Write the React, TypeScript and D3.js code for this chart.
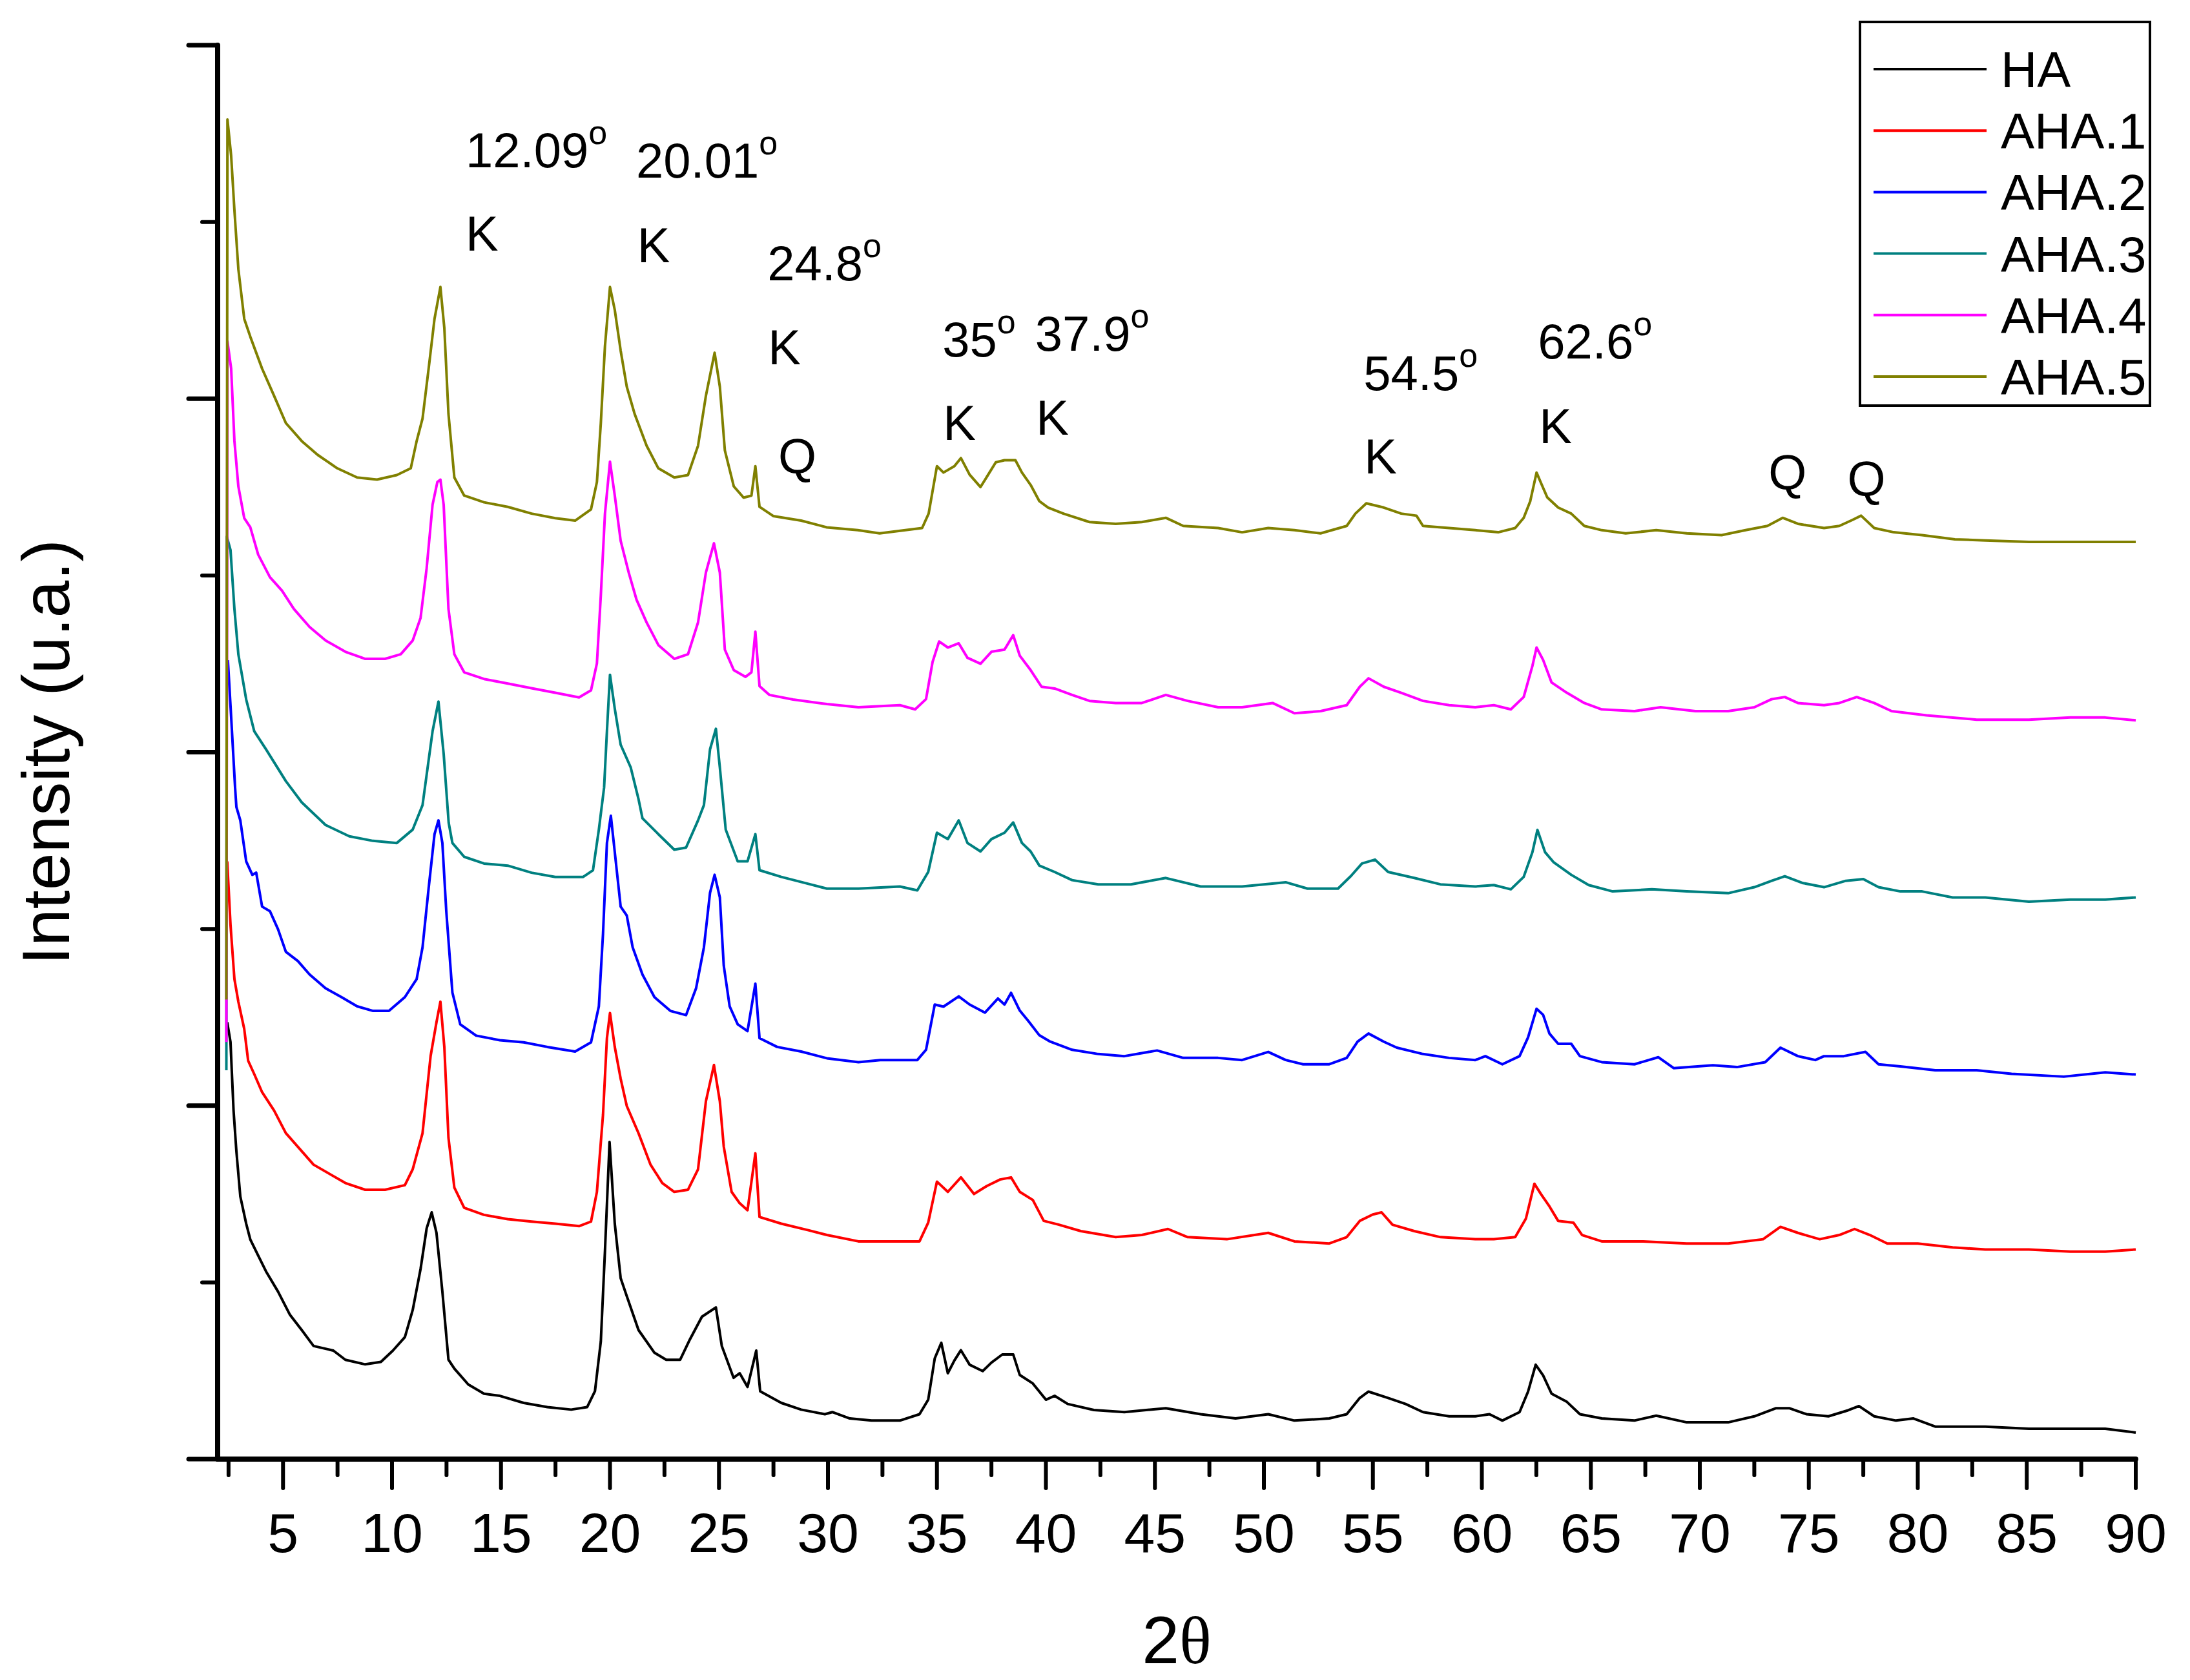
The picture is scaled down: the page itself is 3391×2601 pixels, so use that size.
import React from "react";
import * as d3 from "d3";

const W = 3391;
const H = 2601;

// ---- data: 2θ (deg) , intensity (u.a., stacked as plotted) ----
const seriesNames = ["HA", "AHA.1", "AHA.2", "AHA.3", "AHA.4", "AHA.5"];
const seriesColors = ["#000000", "#FF0000", "#0000FF", "#008080", "#FF00FF", "#808000"];

const HA: [number, number][] = [
  [2.44,1.236],[2.59,1.18],[2.73,0.986],[2.86,0.871],[3.04,0.743],[3.31,0.666],[3.50,0.621],[3.86,0.576],[4.22,0.531],[4.77,0.474],[5.31,0.409],[5.86,0.365],[6.40,0.320],[7.31,0.307],[7.86,0.281],[8.77,0.268],[9.49,0.275],[10.04,0.307],[10.59,0.345],[10.95,0.422],[11.31,0.538],[11.59,0.653],[11.82,0.698],[12.04,0.640],[12.31,0.474],[12.59,0.281],[12.86,0.256],[13.5,0.211],[14.22,0.185],[14.95,0.179],[16.04,0.159],[17.13,0.147],[18.22,0.140],[18.95,0.147],[19.31,0.192],[19.58,0.333],[19.77,0.589],[19.98,0.897],[20.22,0.666],[20.49,0.512],[20.77,0.461],[21.31,0.365],[22.04,0.301],[22.58,0.281],[23.22,0.281],[23.67,0.339],[24.22,0.403],[24.86,0.429],[25.13,0.320],[25.67,0.230],[25.95,0.243],[26.31,0.204],[26.71,0.307],[26.89,0.192],[27.86,0.159],[28.77,0.140],[29.86,0.127],
  [30.2,0.133],[31.0,0.115],[32.0,0.109],[33.3,0.109],[34.2,0.127],[34.6,0.168],[34.9,0.285],[35.2,0.329],[35.5,0.243],[35.8,0.279],[36.1,0.308],[36.5,0.267],[37.1,0.249],[37.5,0.273],[38.0,0.296],[38.5,0.296],[38.8,0.238],[39.4,0.214],[40.0,0.168],[40.4,0.179],[41.0,0.156],[42.2,0.139],[43.6,0.133],[45.5,0.144],[47.1,0.127],[48.7,0.115],[50.2,0.127],[51.4,0.109],[53.0,0.115],[53.8,0.127],[54.4,0.173],[54.8,0.191],[55.7,0.173],[56.5,0.156],[57.3,0.133],[58.5,0.121],[59.7,0.121],
  [60.35,0.127],[60.94,0.109],[61.73,0.133],[62.12,0.191],[62.47,0.267],[62.81,0.237],[63.2,0.185],[63.9,0.162],[64.5,0.127],[65.5,0.115],[67.0,0.109],[68.0,0.123],[69.4,0.104],[71.3,0.104],[72.5,0.121],[73.5,0.144],[74.1,0.144],[74.9,0.127],[75.9,0.121],[76.8,0.138],[77.3,0.150],[78.0,0.121],[79.0,0.109],[79.8,0.115],[80.8,0.092],[83.1,0.092],[85.1,0.086],[87.0,0.086],[88.6,0.086],[90.0,0.075]
];

const AHA1: [number, number][] = [
  [2.44,1.691],[2.59,1.512],[2.77,1.358],[2.95,1.294],[3.22,1.217],[3.40,1.127],[3.68,1.089],[4.04,1.038],[4.59,0.986],[5.13,0.922],[5.86,0.871],[6.40,0.833],[7.13,0.807],[7.86,0.781],[8.77,0.762],[9.68,0.762],[10.59,0.775],[10.95,0.820],[11.40,0.922],[11.77,1.140],[12.04,1.236],[12.22,1.294],[12.40,1.166],[12.59,0.909],[12.86,0.768],[13.31,0.711],[14.22,0.691],[15.31,0.679],[16.40,0.672],[17.49,0.666],[18.58,0.659],[19.13,0.672],[19.40,0.756],[19.68,0.974],[19.86,1.191],[20.0,1.262],[20.22,1.166],[20.49,1.076],[20.77,0.999],[21.31,0.922],[21.86,0.833],[22.40,0.781],[22.95,0.756],[23.58,0.762],[24.04,0.820],[24.40,1.012],[24.77,1.115],[25.04,1.012],[25.22,0.884],[25.58,0.756],[25.95,0.724],[26.31,0.704],[26.67,0.865],[26.86,0.685],[27.86,0.666],[29.13,0.647],[29.95,0.634],
  [31.4,0.616],[33.3,0.616],[34.2,0.616],[34.6,0.669],[35.0,0.785],[35.5,0.756],[36.1,0.797],[36.7,0.750],[37.3,0.773],[37.9,0.791],[38.4,0.797],[38.8,0.756],[39.4,0.733],[39.9,0.674],[40.6,0.663],[41.6,0.645],[43.2,0.628],[44.4,0.634],[45.6,0.651],[46.5,0.628],[48.3,0.622],[50.2,0.640],[51.4,0.616],[53.0,0.610],[53.8,0.628],[54.4,0.674],[55.0,0.692],[55.4,0.698],[55.9,0.663],[56.9,0.645],[58.1,0.628],[59.7,0.622],
  [60.55,0.622],[61.53,0.628],[62.02,0.680],[62.41,0.779],[62.71,0.750],[63.1,0.715],[63.5,0.674],[64.2,0.669],[64.6,0.634],[65.5,0.616],[67.4,0.616],[69.4,0.610],[71.3,0.610],[72.9,0.622],[73.7,0.657],[74.5,0.640],[75.5,0.622],[76.4,0.634],[77.1,0.651],[77.8,0.634],[78.6,0.610],[80.0,0.610],[81.6,0.599],[83.1,0.593],[85.1,0.593],[87.0,0.587],[88.6,0.587],[90.0,0.593]
];

const AHA2: [number, number][] = [
  [2.47,2.26],[2.62,2.10],[2.80,1.90],[2.86,1.845],[3.04,1.807],[3.31,1.691],[3.59,1.653],[3.77,1.659],[4.04,1.563],[4.40,1.550],[4.77,1.499],[5.13,1.435],[5.68,1.409],[6.22,1.371],[6.95,1.332],[7.68,1.307],[8.40,1.281],[9.13,1.268],[9.86,1.268],[10.59,1.307],[11.13,1.358],[11.40,1.448],[11.68,1.615],[11.95,1.768],[12.13,1.807],[12.31,1.743],[12.49,1.550],[12.77,1.320],[13.13,1.230],[13.86,1.198],[14.95,1.185],[16.04,1.179],[17.13,1.166],[18.40,1.153],[19.13,1.179],[19.49,1.281],[19.68,1.486],[19.86,1.743],[20.04,1.820],[20.22,1.717],[20.49,1.563],[20.77,1.538],[21.04,1.448],[21.49,1.371],[22.04,1.307],[22.77,1.268],[23.49,1.256],[23.95,1.332],[24.31,1.448],[24.59,1.602],[24.80,1.653],[25.04,1.589],[25.22,1.396],[25.49,1.281],[25.86,1.230],[26.31,1.211],[26.67,1.345],[26.86,1.191],[27.67,1.166],[28.77,1.153],[29.95,1.134],
  [31.4,1.123],[32.4,1.129],[34.1,1.129],[34.5,1.158],[34.9,1.286],[35.3,1.280],[36.0,1.309],[36.5,1.286],[37.2,1.263],[37.8,1.303],[38.1,1.286],[38.4,1.319],[38.8,1.269],[39.2,1.239],[39.7,1.199],[40.2,1.181],[41.2,1.158],[42.4,1.146],[43.6,1.140],[45.1,1.156],[46.3,1.135],[47.9,1.135],[49.0,1.129],[50.2,1.152],[51.0,1.129],[51.8,1.117],[53.0,1.117],[53.8,1.135],[54.3,1.181],[54.8,1.204],[55.5,1.181],[56.1,1.164],[57.3,1.146],[58.5,1.135],[59.7,1.129],
  [60.16,1.140],[60.94,1.117],[61.73,1.140],[62.12,1.193],[62.51,1.274],[62.81,1.257],[63.1,1.204],[63.5,1.175],[64.1,1.175],[64.5,1.140],[65.5,1.123],[67.0,1.117],[68.1,1.137],[68.8,1.106],[70.6,1.114],[71.7,1.109],[73.0,1.123],[73.7,1.164],[74.5,1.140],[75.3,1.129],[75.7,1.140],[76.6,1.140],[77.6,1.152],[78.2,1.117],[79.2,1.111],[80.8,1.100],[82.7,1.100],[84.3,1.090],[86.7,1.082],[88.6,1.094],[90.0,1.088]
];

const AHA3: [number, number][] = [
  [2.40,1.10],[2.42,2.61],[2.59,2.572],[2.77,2.405],[2.95,2.277],[3.31,2.149],[3.68,2.059],[4.22,2.008],[5.13,1.918],[5.86,1.858],[6.95,1.794],[8.04,1.762],[9.13,1.749],[10.22,1.743],[10.95,1.781],[11.40,1.850],[11.86,2.059],[12.13,2.143],[12.37,1.995],[12.60,1.800],[12.77,1.743],[13.31,1.704],[14.22,1.685],[15.31,1.679],[16.40,1.659],[17.49,1.647],[18.77,1.647],[19.22,1.666],[19.49,1.781],[19.73,1.900],[19.86,2.059],[20.0,2.219],[20.22,2.123],[20.49,2.021],[20.95,1.957],[21.31,1.867],[21.49,1.813],[22.22,1.768],[22.95,1.724],[23.49,1.730],[24.04,1.807],[24.31,1.850],[24.59,2.008],[24.86,2.066],[25.04,1.957],[25.31,1.781],[25.86,1.691],[26.31,1.691],[26.67,1.768],[26.86,1.666],[27.86,1.647],[29.13,1.627],[29.95,1.614],
  [31.4,1.614],[33.3,1.620],[34.1,1.609],[34.6,1.661],[35.0,1.772],[35.5,1.754],[36.0,1.807],[36.4,1.743],[37.0,1.719],[37.5,1.754],[38.1,1.772],[38.5,1.801],[38.9,1.743],[39.3,1.719],[39.7,1.679],[40.4,1.661],[41.2,1.638],[42.4,1.626],[43.9,1.626],[45.5,1.644],[47.1,1.620],[49.0,1.620],[51.0,1.632],[52.0,1.614],[53.4,1.614],[54.0,1.650],[54.5,1.685],[55.1,1.696],[55.7,1.661],[56.9,1.644],[58.1,1.626],[59.7,1.620],
  [60.55,1.624],[61.33,1.612],[61.92,1.647],[62.32,1.717],[62.55,1.780],[62.9,1.717],[63.3,1.688],[64.1,1.653],[64.9,1.624],[66.0,1.606],[67.8,1.612],[69.4,1.606],[71.3,1.601],[72.5,1.618],[73.3,1.636],[73.9,1.649],[74.7,1.630],[75.7,1.618],[76.7,1.636],[77.5,1.641],[78.2,1.618],[79.2,1.606],[80.2,1.606],[81.6,1.589],[83.1,1.589],[85.1,1.577],[87.0,1.583],[88.6,1.583],[90.0,1.589]
];

const AHA4: [number, number][] = [
  [2.40,1.18],[2.45,3.162],[2.62,3.085],[2.77,2.880],[2.95,2.752],[3.22,2.662],[3.50,2.636],[3.86,2.559],[4.40,2.495],[4.95,2.457],[5.50,2.405],[6.22,2.354],[6.95,2.316],[7.86,2.284],[8.77,2.264],[9.68,2.264],[10.40,2.277],[10.95,2.316],[11.31,2.380],[11.59,2.521],[11.86,2.700],[12.08,2.764],[12.22,2.771],[12.37,2.700],[12.59,2.405],[12.86,2.277],[13.31,2.226],[14.22,2.207],[15.31,2.194],[16.40,2.181],[17.49,2.168],[18.58,2.155],[19.13,2.175],[19.40,2.251],[19.58,2.444],[19.77,2.675],[20.0,2.822],[20.22,2.726],[20.49,2.598],[20.86,2.508],[21.22,2.431],[21.68,2.367],[22.22,2.303],[22.95,2.264],[23.58,2.277],[24.04,2.367],[24.40,2.508],[24.77,2.591],[25.04,2.508],[25.27,2.290],[25.68,2.232],[26.22,2.213],[26.49,2.226],[26.67,2.341],[26.86,2.187],[27.31,2.162],[28.40,2.149],[29.95,2.136],
  [31.4,2.127],[33.3,2.133],[34.0,2.121],[34.5,2.150],[34.8,2.255],[35.1,2.313],[35.5,2.296],[36.0,2.308],[36.4,2.267],[37.0,2.250],[37.5,2.284],[38.1,2.290],[38.5,2.331],[38.8,2.273],[39.3,2.232],[39.8,2.185],[40.4,2.180],[41.2,2.162],[42.0,2.145],[43.2,2.139],[44.4,2.139],[45.5,2.162],[46.5,2.145],[47.9,2.127],[49.0,2.127],[50.4,2.139],[51.4,2.110],[52.6,2.116],[53.8,2.133],[54.4,2.185],[54.8,2.209],[55.5,2.185],[56.3,2.168],[57.3,2.145],[58.5,2.133],[59.7,2.127],
  [60.55,2.133],[61.33,2.121],[61.92,2.156],[62.32,2.244],[62.51,2.296],[62.81,2.261],[63.2,2.197],[63.9,2.168],[64.7,2.139],[65.5,2.121],[67.0,2.116],[68.2,2.127],[69.8,2.116],[71.3,2.116],[72.5,2.127],[73.3,2.150],[73.9,2.156],[74.5,2.139],[75.7,2.133],[76.4,2.139],[77.2,2.156],[78.0,2.139],[78.8,2.116],[80.4,2.104],[82.7,2.092],[85.1,2.092],[87.0,2.098],[88.6,2.098],[90.0,2.090]
];

const AHA5: [number, number][] = [
  [2.40,1.30],[2.45,3.790],[2.62,3.687],[2.77,3.533],[2.95,3.367],[3.22,3.226],[3.50,3.175],[4.04,3.085],[4.59,3.008],[5.13,2.931],[5.86,2.880],[6.59,2.841],[7.49,2.803],[8.40,2.777],[9.31,2.771],[10.22,2.784],[10.86,2.803],[11.13,2.880],[11.40,2.944],[11.68,3.085],[11.95,3.226],[12.22,3.316],[12.40,3.200],[12.59,2.957],[12.86,2.777],[13.31,2.726],[14.22,2.707],[15.31,2.694],[16.40,2.675],[17.49,2.662],[18.40,2.655],[19.13,2.687],[19.40,2.764],[19.58,2.931],[19.77,3.149],[20.0,3.316],[20.22,3.251],[20.49,3.136],[20.77,3.034],[21.13,2.957],[21.68,2.867],[22.22,2.803],[22.95,2.777],[23.58,2.784],[24.04,2.867],[24.40,3.008],[24.80,3.130],[25.04,3.034],[25.27,2.854],[25.68,2.752],[26.13,2.720],[26.49,2.726],[26.67,2.809],[26.86,2.694],[27.49,2.668],[28.77,2.655],[29.95,2.636],
  [31.37,2.628],[32.37,2.619],[34.32,2.634],[34.62,2.675],[35.0,2.809],[35.3,2.791],[35.8,2.809],[36.1,2.832],[36.5,2.785],[37.0,2.750],[37.3,2.780],[37.7,2.820],[38.1,2.826],[38.6,2.826],[38.9,2.791],[39.3,2.756],[39.7,2.710],[40.1,2.692],[40.8,2.675],[42.0,2.651],[43.2,2.646],[44.4,2.651],[45.5,2.663],[46.3,2.640],[47.9,2.634],[49.0,2.622],[50.2,2.634],[51.4,2.628],[52.6,2.619],[53.8,2.640],[54.2,2.675],[54.7,2.704],[55.5,2.692],[56.3,2.675],[57.0,2.669],[57.3,2.640],[58.5,2.634],[59.7,2.628],
  [60.75,2.622],[61.53,2.634],[61.92,2.663],[62.22,2.710],[62.51,2.791],[62.71,2.762],[63.0,2.721],[63.5,2.692],[64.1,2.675],[64.7,2.640],[65.5,2.628],[66.6,2.619],[68.0,2.628],[69.4,2.619],[71.0,2.614],[72.1,2.628],[73.1,2.640],[73.8,2.663],[74.5,2.646],[75.7,2.634],[76.4,2.640],[77.0,2.657],[77.4,2.669],[78.0,2.634],[78.9,2.622],[80.2,2.614],[81.7,2.602],[83.1,2.599],[85.1,2.595],[87.0,2.595],[88.6,2.595],[90.0,2.595]
];

const seriesData = [HA, AHA1, AHA2, AHA3, AHA4, AHA5];

// tick values
const xMajorTicks = d3.range(5, 91, 5);
const xMinorTicks = d3.range(2.5, 90, 5);
const yMajorTicks = [0, 1, 2, 3, 4];
const yMinorTicks = [0.5, 1.5, 2.5, 3.5];

// peak annotations: text, superscript, anchor (2θ, intensity)
const annoText = ["12.09", "K", "20.01", "K", "24.8", "K", "Q", "35", "K", "37.9", "K", "54.5", "K", "62.6", "K", "Q", "Q"];
const annoSup = ["o", "", "o", "", "o", "", "", "o", "", "o", "", "o", "", "o", "", "", ""];
const annoX = [13.38, 13.38, 21.2, 21.25, 27.22, 27.25, 27.72, 35.25, 35.28, 39.5, 39.55, 54.57, 54.6, 62.57, 62.63, 73.15, 76.77];
const annoY = [3.654, 3.418, 3.625, 3.386, 3.335, 3.098, 2.791, 3.119, 2.883, 3.136, 2.898, 3.024, 2.788, 3.114, 2.875, 2.745, 2.727];

const FONT = "'Liberation Sans', Arial, Helvetica, sans-serif";

export default function App() {
  const x = d3.scaleLinear().domain([2, 90]).range([337, 3307]);
  const y = d3.scaleLinear().domain([0, 4]).range([2259, 70]);
  const line = d3
    .line<[number, number]>()
    .x((d) => x(d[0]))
    .y((d) => y(d[1]));

  const legendX = 2880;
  const legendY = 34;
  const legendW = 449;
  const legendH = 594;
  const rowY = (i: number) => 107 + i * 95.2;

  return (
    <svg
      width={W}
      height={H}
      viewBox={`0 0 ${W} ${H}`}
      style={{ position: "absolute", left: 0, top: 0, display: "block", background: "#fff" }}
    >
      <rect x={0} y={0} width={W} height={H} fill="#fff" />

      {/* data */}
      <g fill="none" strokeWidth={4} strokeLinejoin="round">
        {seriesData.map((s, i) => (
          <path key={seriesNames[i]} d={line(s) || ""} stroke={seriesColors[i]} />
        ))}
      </g>

      {/* axes */}
      <g stroke="#000" strokeLinecap="round">
        <line x1={x(2)} y1={y(4)} x2={x(2)} y2={y(0)} strokeWidth={8} />
        <line x1={x(2)} y1={y(0)} x2={x(90)} y2={y(0)} strokeWidth={8} />
        {xMajorTicks.map((t) => (
          <line key={"xM" + t} x1={x(t)} x2={x(t)} y1={y(0)} y2={y(0) + 45} strokeWidth={6} />
        ))}
        {xMinorTicks.map((t) => (
          <line key={"xm" + t} x1={x(t)} x2={x(t)} y1={y(0)} y2={y(0) + 25} strokeWidth={6} />
        ))}
        {yMajorTicks.map((t) => (
          <line key={"yM" + t} x1={x(2) - 45} x2={x(2)} y1={y(t)} y2={y(t)} strokeWidth={7} />
        ))}
        {yMinorTicks.map((t) => (
          <line key={"ym" + t} x1={x(2) - 24} x2={x(2)} y1={y(t)} y2={y(t)} strokeWidth={6} />
        ))}
      </g>

      {/* tick labels */}
      <g fontFamily={FONT} fontSize={86} textAnchor="middle" fill="#000">
        {xMajorTicks.map((t) => (
          <text key={"xl" + t} x={x(t)} y={2403}>
            {t}
          </text>
        ))}
      </g>

      {/* axis titles */}
      <text x={(x(2) + x(90)) / 2} y={2575} textAnchor="middle" fontSize={104} fontFamily={FONT} fill="#000">
        2<tspan fontFamily="'Liberation Serif', 'Times New Roman', serif">θ</tspan>
      </text>
      <text
        transform={`translate(107, ${(y(0) + y(4)) / 2}) rotate(-90)`}
        textAnchor="middle"
        fontSize={104}
        fontFamily={FONT}
        fill="#000"
      >
        Intensity (u.a.)
      </text>

      {/* annotations */}
      <g fontFamily={FONT} fontSize={76} fill="#000">
        {annoText.map((t, i) => (
          <text key={"a" + i} x={x(annoX[i])} y={y(annoY[i])}>
            {t}
            {annoSup[i] ? (
              <tspan fontSize={52} dy={-36}>
                {annoSup[i]}
              </tspan>
            ) : null}
          </text>
        ))}
      </g>

      {/* legend */}
      <rect x={legendX} y={legendY} width={legendW} height={legendH} fill="#fff" stroke="#000" strokeWidth={4} />
      {seriesNames.map((n, i) => (
        <g key={"lg" + n}>
          <line x1={2901} x2={3076} y1={rowY(i)} y2={rowY(i)} stroke={seriesColors[i]} strokeWidth={4} />
          <text x={3098} y={rowY(i) + 28} fontFamily={FONT} fontSize={78} fill="#000">
            {n}
          </text>
        </g>
      ))}
    </svg>
  );
}
